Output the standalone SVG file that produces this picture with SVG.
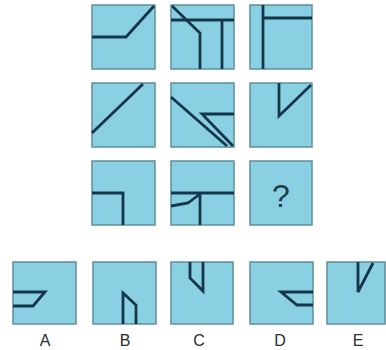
<svg xmlns="http://www.w3.org/2000/svg" width="386" height="350" viewBox="0 0 386 350">
<style>
.box{fill:#8ad0e3;stroke:#5e8f9c;stroke-width:1.5}
.ln{fill:none;stroke:#15364a;stroke-width:2.8;stroke-linejoin:miter}
.lbl{font-family:"Liberation Sans",Arial,sans-serif;font-size:16px;fill:#2e2e2e;text-anchor:middle}
.q{font-family:"Liberation Sans",Arial,sans-serif;font-size:32px;fill:#1f3a50;text-anchor:middle}
</style>
<rect width="386" height="350" fill="#ffffff"/>
<g id="r1c1"><rect class="box" x="92" y="5" width="63" height="64"/><polyline class="ln" points="92,37 126,37 154,6"/></g>
<g id="r1c2"><rect class="box" x="171" y="5" width="63" height="64"/><polyline class="ln" points="172,6 200,33 200,69"/><line class="ln" x1="171" y1="20" x2="234" y2="20"/><line class="ln" x1="222" y1="20" x2="222" y2="69"/></g>
<g id="r1c3"><rect class="box" x="250" y="5" width="62" height="64"/><line class="ln" x1="263" y1="5" x2="263" y2="69"/><line class="ln" x1="263" y1="18" x2="312" y2="18"/></g>
<g id="r2c1"><rect class="box" x="92" y="83" width="63" height="64"/><line class="ln" x1="92" y1="133" x2="143" y2="84"/></g>
<g id="r2c2"><rect class="box" x="171" y="83" width="63" height="64"/><line class="ln" x1="171" y1="97" x2="227" y2="146"/><polyline class="ln" points="234,114 202,114 233,146"/></g>
<g id="r2c3"><rect class="box" x="250" y="83" width="62" height="64"/><polyline class="ln" points="279,83 279,116 311,85"/></g>
<g id="r3c1"><rect class="box" x="92" y="161" width="63" height="64"/><polyline class="ln" points="92,193 123,193 123,225"/></g>
<g id="r3c2"><rect class="box" x="171" y="161" width="63" height="64"/><line class="ln" x1="171" y1="193" x2="234" y2="193"/><line class="ln" x1="200" y1="193" x2="200" y2="225"/><polyline class="ln" points="171,206 188,203 200,194"/></g>
<g id="r3c3"><rect class="box" x="250" y="161" width="62" height="64"/><text class="q" x="281" y="207">?</text></g>
<g id="optA"><rect class="box" x="13" y="262" width="63" height="62"/><polyline class="ln" points="13,292 45,292 33,306 13,306"/><text class="lbl" x="45" y="346">A</text></g>
<g id="optB"><rect class="box" x="93" y="262" width="63" height="62"/><polyline class="ln" points="123,324 123,293 136,305 136,324"/><text class="lbl" x="125" y="346">B</text></g>
<g id="optC"><rect class="box" x="171" y="262" width="62" height="62"/><polyline class="ln" points="190,262 190,278 203,291 203,262"/><text class="lbl" x="199" y="346">C</text></g>
<g id="optD"><rect class="box" x="250" y="262" width="63" height="62"/><polyline class="ln" points="313,292 281,292 297,305 313,305"/><text class="lbl" x="280" y="346">D</text></g>
<g id="optE"><rect class="box" x="327" y="262" width="58" height="62"/><polyline class="ln" points="358,262 358,292 373,263"/><text class="lbl" x="358" y="346">E</text></g>
</svg>
